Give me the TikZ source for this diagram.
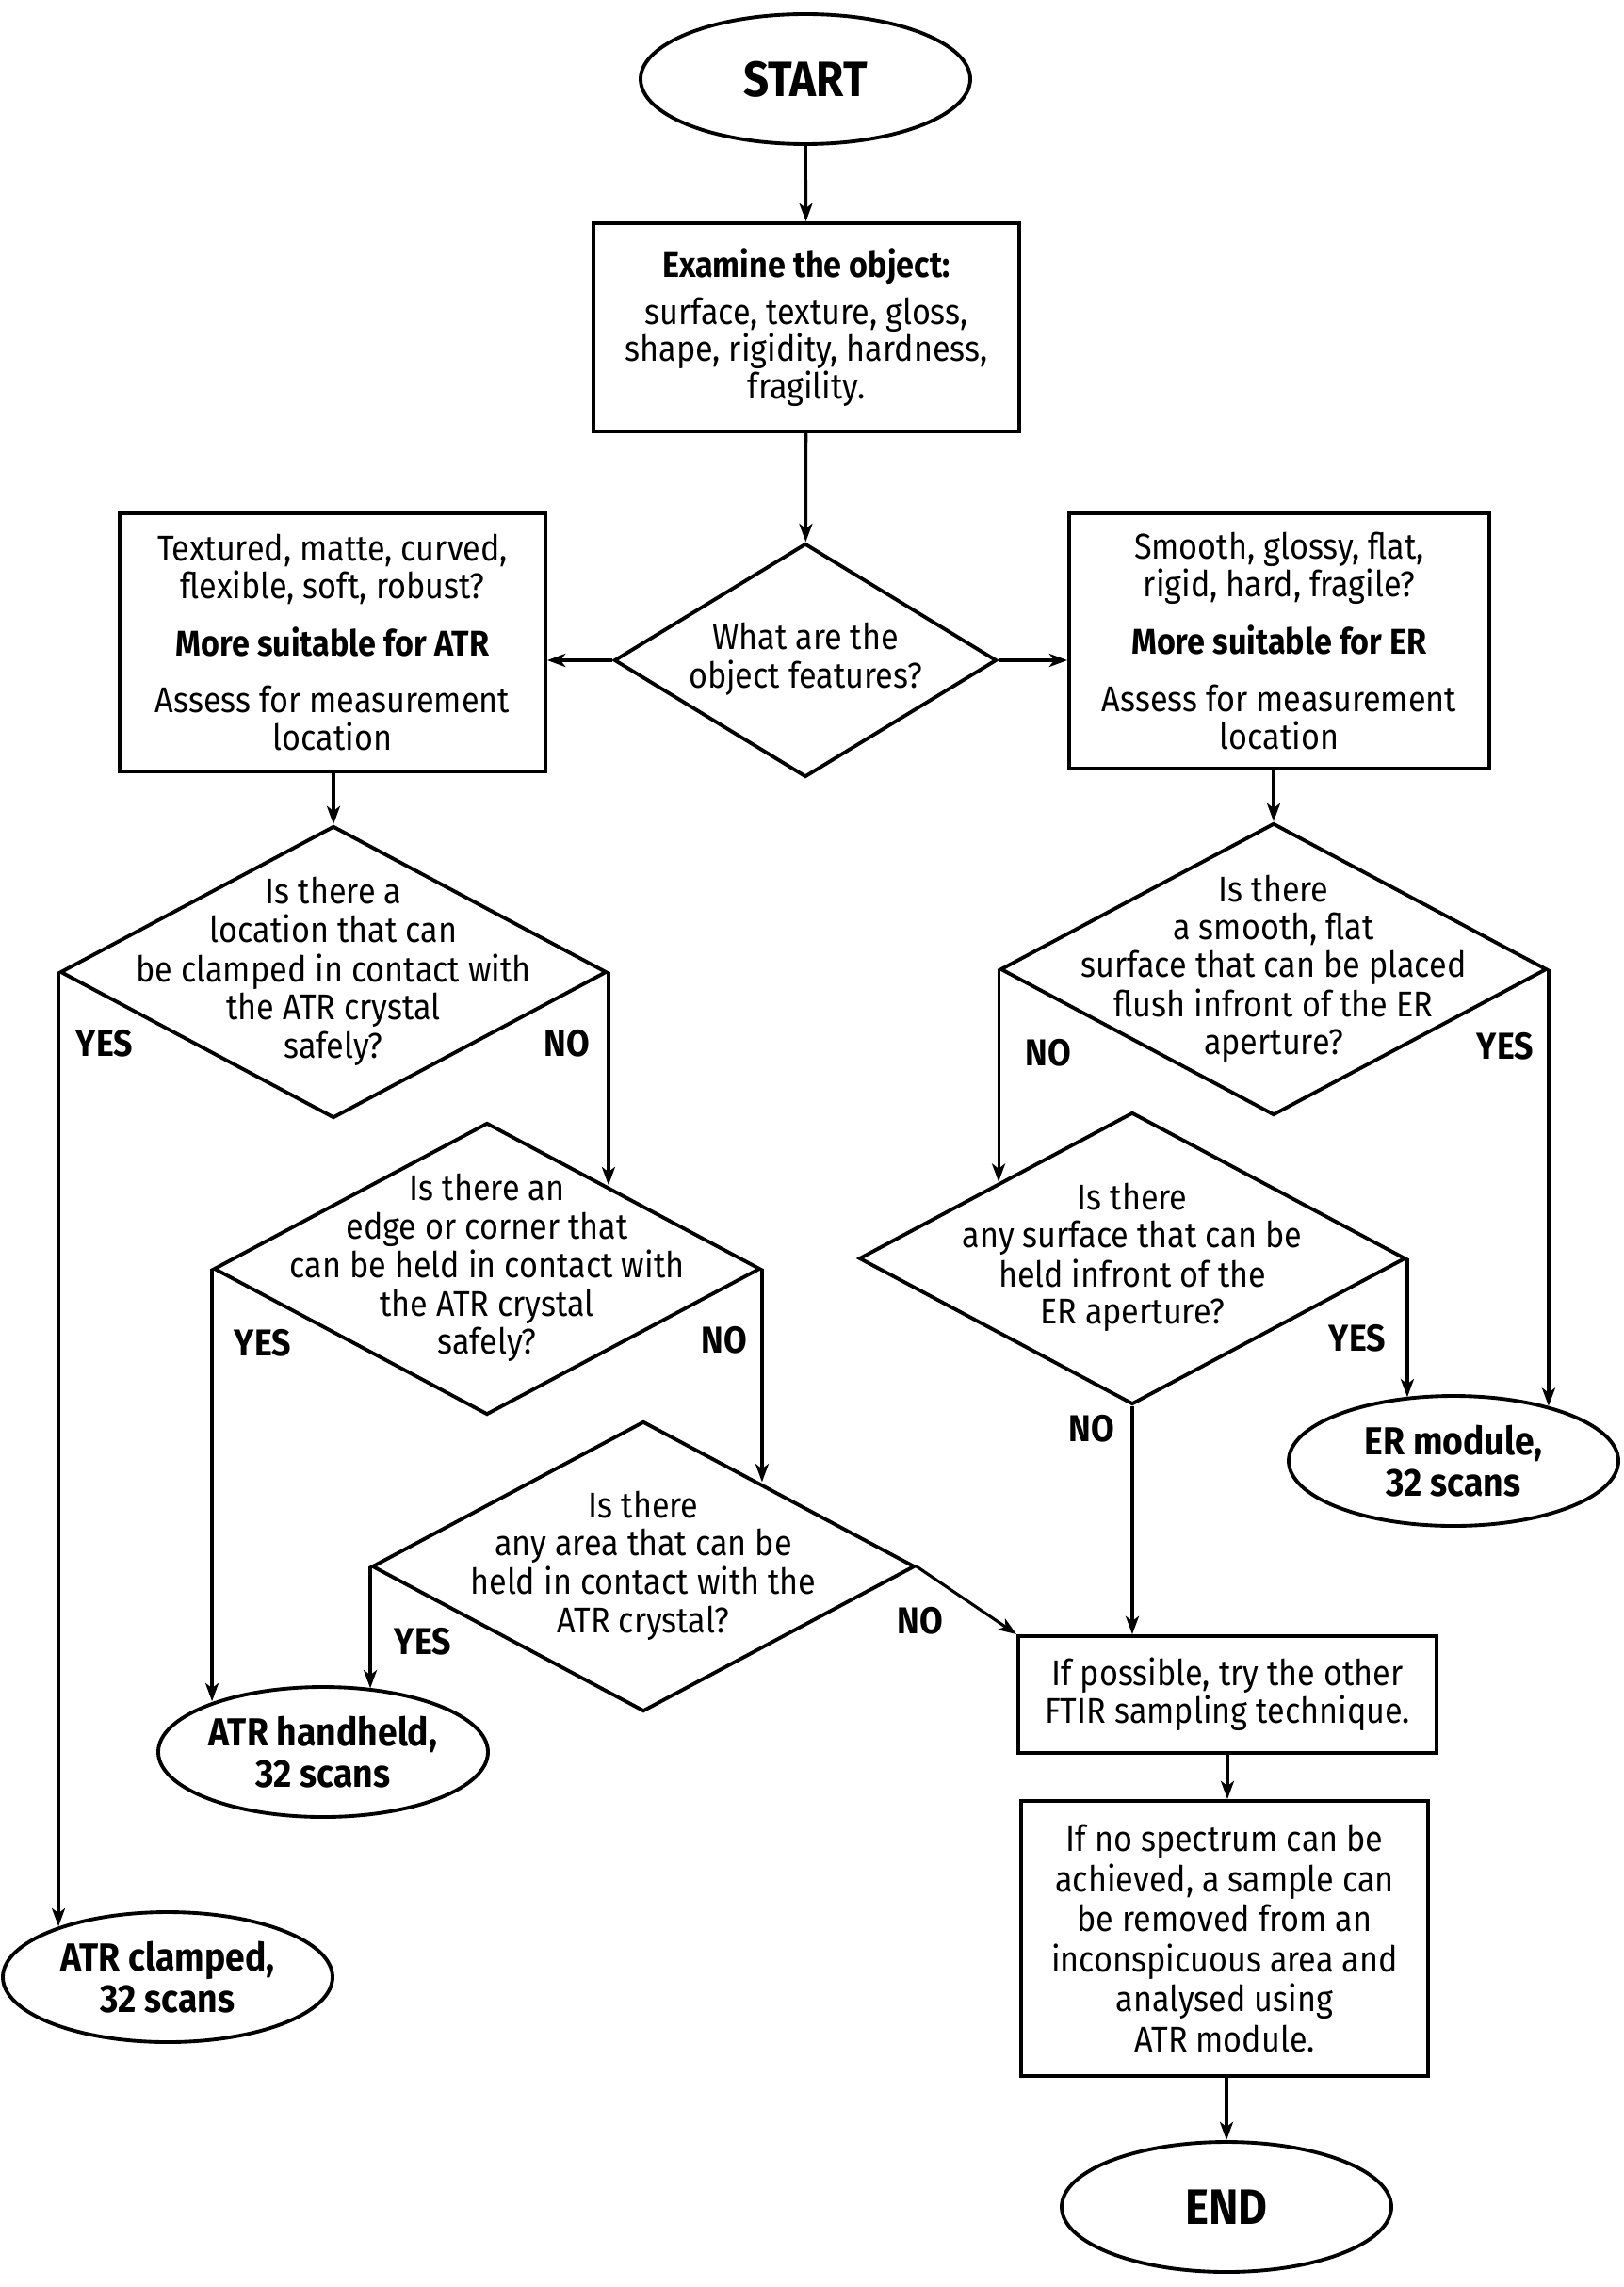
\documentclass[tikz,border=0pt]{standalone}
\usepackage{fontspec}
\setmainfont{Fira Sans}[FakeStretch=0.9]
\usetikzlibrary{shapes.geometric,arrows.meta,calc}
\newcommand{\qtxt}[1]{\smash{\makebox[0pt]{\raisebox{-3pt}{\begin{tabular}{@{}c@{}}#1\end{tabular}}}}}

\begin{document}
\begin{tikzpicture}[every node/.style={font=\fontsize{10.8}{11.3}\selectfont},
procbox/.style={draw,line width=1.1pt,rectangle,align=center,inner sep=0pt},
term/.style={draw,line width=1.1pt,ellipse,align=center,inner sep=0pt,minimum width=3.5cm,minimum height=1.38cm,font=\fontsize{11.8}{12.6}\selectfont\bfseries},
decision/.style={draw,line width=1.1pt,diamond,inner sep=0pt,minimum width=5.8cm,minimum height=3.1cm},
answer/.style={font=\fontsize{11.3}{12}\selectfont\bfseries},
flow/.style={-{Stealth[length=5.5pt,width=4pt,inset=1.5pt]},line width=0.9pt}]
\useasboundingbox (0,0) rectangle (17.23,-24.28);
\node[term,font=\fontsize{15}{17}\selectfont\bfseries] (start) at (8.55,-0.84) {START};
\node[procbox,minimum width=4.52cm,minimum height=2.21cm] (exam) at (8.56,-3.475) {\textbf{Examine the object:}\\[3pt] surface, texture, gloss,\\ shape, rigidity, hardness,\\ fragility.};
\node[decision,minimum width=4.06cm,minimum height=2.48cm] (feat) at (8.55,-7.01) {\qtxt{What are the\\ object features?}};
\node[procbox,minimum width=4.52cm,minimum height=2.74cm] (atr) at (3.53,-6.82) {Textured, matte, curved,\\ flexible, soft, robust?\\[6pt] \textbf{More suitable for ATR}\\[6pt] Assess for measurement\\ location};
\node[procbox,minimum width=4.46cm,minimum height=2.71cm] (er) at (13.58,-6.805) {Smooth, glossy, flat,\\ rigid, hard, fragile?\\[6pt] \textbf{More suitable for ER}\\[6pt] Assess for measurement\\ location};
\node[decision] (q1) at (3.54,-10.32) {\qtxt{Is there a\\ location that can\\ be clamped in contact with\\ the ATR crystal\\ safely?}};
\node[decision] (q2) at (5.17,-13.47) {\qtxt{Is there an\\ edge or corner that\\ can be held in contact with\\ the ATR crystal\\ safely?}};
\node[decision,minimum width=5.76cm,minimum height=3.08cm] (q3) at (6.83,-16.63) {\qtxt{Is there\\ any area that can be\\ held in contact with the\\ ATR crystal?}};
\node[decision] (e1) at (13.52,-10.29) {\qtxt{Is there\\ a smooth, flat\\ surface that can be placed\\ flush infront of the ER\\ aperture?}};
\node[decision] (e2) at (12.02,-13.36) {\qtxt{Is there\\ any surface that can be\\ held infront of the\\ ER aperture?}};
\node[term] (ermod) at (15.43,-15.51) {ER module,\\ 32 scans};
\node[term] (hand) at (3.43,-18.60) {ATR handheld,\\ 32 scans};
\node[term] (clamp) at (1.78,-20.99) {ATR clamped,\\ 32 scans};
\node[procbox,minimum width=4.44cm,minimum height=1.24cm] (try) at (13.03,-17.99) {If possible, try the other\\ FTIR sampling technique.};
\node[procbox,minimum width=4.32cm,minimum height=2.92cm,font=\fontsize{10.8}{12.1}\selectfont] (sample) at (13.00,-20.58) {If no spectrum can be\\ achieved, a sample can\\ be removed from an\\ inconspicuous area and\\ analysed using\\ ATR module.};
\node[term,font=\fontsize{15}{17}\selectfont\bfseries] (end) at (13.02,-23.43) {END};
\draw[flow] (start) -- (exam);\draw[flow] (exam) -- (feat);
\draw[flow] (feat.west) -- (feat.west -| atr.east);\draw[flow] (feat.east) -- (feat.east -| er.west);
\draw[flow] (q1.north |- atr.south) -- (q1.north);\draw[flow] (e1.north |- er.south) -- (e1.north);
\draw[flow] (q1.west) -- (q1.west |- clamp.155);\draw[flow] (q1.east) -- (q1.east |- q2.35);
\draw[flow] (q2.west) -- (q2.west |- hand.155);\draw[flow] (q2.east) -- (q2.east |- q3.36);
\draw[flow] (q3.west) -- (q3.west |- hand.52);\draw[flow] (q3.east) -- (try.north west);
\draw[flow] (e1.west) -- (e1.west |- e2.150);\draw[flow] (e1.east) -- (e1.east |- ermod.30);
\draw[flow] (e2.east) -- (e2.east |- ermod.128);\draw[flow] (e2.south) -- (e2.south |- try.north);
\draw[flow] (try.south) -- (try.south |- sample.north);\draw[flow] (end.north |- sample.south) -- (end.north);
\node[answer] (y1) at (1.11,-11.08) {YES};\node[answer] (n1) at (6.02,-11.08) {NO};
\node[answer] (y2) at (2.79,-14.26) {YES};\node[answer] (n2) at (7.69,-14.23) {NO};
\node[answer] (y3) at (4.49,-17.43) {YES};\node[answer] (n3) at (9.77,-17.21) {NO};
\node[answer] (n4) at (11.13,-11.18) {NO};\node[answer] (y4) at (15.98,-11.11) {YES};
\node[answer] (y5) at (14.41,-14.21) {YES};\node[answer] (n5) at (11.59,-15.17) {NO};
\end{tikzpicture}
\end{document}
